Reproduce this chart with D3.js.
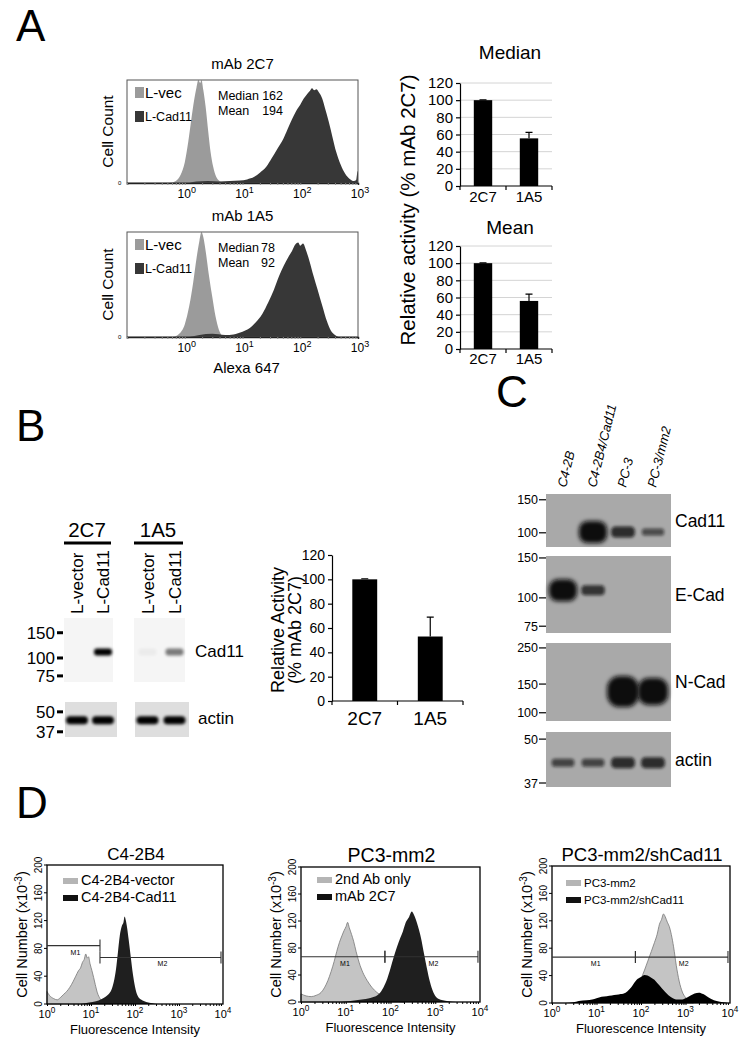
<!DOCTYPE html>
<html>
<head>
<meta charset="utf-8">
<script src="https://cdn.jsdelivr.net/npm/d3@7"></script>
<style>
  body { margin: 0; background: #fff; }
  text { font-family: "Liberation Sans", Arial, Helvetica, sans-serif; fill: #000; }
</style>
</head>
<body>
<svg id="fig" width="748" height="1047"></svg>
<script>
// ---------- data ----------

// Panel A flow histograms: [fluorescence, relative cell count]
const a2c7Vec = [[0.55,0],[0.7,0.02],[0.85,0.08],[1.0,0.2],[1.15,0.4],[1.3,0.62],[1.45,0.8],[1.6,0.93],[1.72,1.0],[1.85,0.97],[1.95,1.0],[2.1,0.9],[2.3,0.74],[2.55,0.5],[2.8,0.3],[3.1,0.16],[3.5,0.06],[4.0,0.02],[4.6,0]];
const a2c7Cad = [[1.2,0],[1.6,0.015],[2.5,0.02],[4,0.015],[6,0.02],[9,0.025],[12,0.035],[16,0.06],[20,0.1],[26,0.16],[32,0.24],[40,0.33],[50,0.42],[60,0.52],[72,0.62],[85,0.7],[100,0.76],[115,0.82],[130,0.86],[145,0.89],[160,0.92],[175,0.9],[190,0.91],[210,0.88],[240,0.82],[270,0.72],[310,0.6],[360,0.45],[420,0.3],[500,0.18],[600,0.09],[720,0.04],[850,0.02],[930,0.03],[970,0.1],[1000,0.12]];
const a1a5Vec = [[0.65,0],[0.8,0.03],[1.0,0.12],[1.2,0.3],[1.4,0.52],[1.6,0.75],[1.8,0.92],[1.95,1.0],[2.1,0.95],[2.3,0.82],[2.6,0.6],[3.0,0.38],[3.4,0.2],[3.9,0.07],[4.5,0.01],[5,0]];
const a1a5Cad = [[1.2,0],[1.8,0.02],[3,0.03],[5,0.02],[7,0.025],[10,0.05],[13,0.08],[17,0.14],[22,0.22],[28,0.33],[35,0.45],[43,0.58],[52,0.68],[62,0.76],[72,0.82],[82,0.88],[92,0.9],[100,0.87],[112,0.89],[125,0.83],[145,0.72],[170,0.58],[200,0.45],[240,0.3],[290,0.15],[340,0.06],[400,0.02],[460,0]];
const aLegend = ["L-vec", "L-Cad11"];
const a2c7Stats = [["Median", "162"], ["Mean", "194"]];
const a1a5Stats = [["Median", "78"], ["Mean", "92"]];
const aDecades = [1, 10, 100, 1000];

// Panel A bar charts (% mAb 2C7)
const barCats = ["2C7", "1A5"];
const aMedianVals = [100, 55.5];
const aMedianErr = [0.4, 7];
const aMeanVals = [100, 56];
const aMeanErr = [0.4, 8];
const barTicks = [0, 20, 40, 60, 80, 100, 120];

// Panel B
const bBarVals = [100, 53];
const bBarErr = [0.5, 16];
const bLanes = ["L-vector", "L-Cad11"];
const bAbs = ["2C7", "1A5"];
const bCad11 = [[0, 1.0], [0.04, 0.5]];   // band intensity per antibody, per lane
const bActin = [[1, 1], [1, 1]];
const bMarkersUp = [150, 100, 75];
const bMarkersLow = [50, 37];

// Panel C western blots
const cLanes = ["C4-2B", "C4-2B4/Cad11", "PC-3", "PC-3/mm2"];
const cCad11 = [0, 0.9, 0.35, 0.15];
const cECad = [0.9, 0.3, 0, 0];
const cNCad = [0, 0, 1.35, 1.15];
const cActin = [0.2, 0.2, 0.35, 0.35];
const cMarkers = [[150, 100], [150, 100, 75], [250, 150, 100], [50, 37]];
const cNames = ["Cad11", "E-Cad", "N-Cad", "actin"];
const cKda = [101, 108, 135, 42.5];

// Panel D flow histograms: [fluorescence, cells x10^-3]
const dC42Vec = [[1,18],[1.15,12],[1.4,8],[1.7,6],[2,9],[2.4,14],[2.8,18],[3.3,24],[3.9,32],[4.5,40],[5.2,48],[5.8,52],[6.4,60],[7,64],[7.6,72],[8.2,66],[8.8,68],[9.5,58],[10.5,48],[11.5,38],[12.5,28],[14,16],[16,8],[19,3],[24,1],[30,0]];
const dC42Cad = [[6,0],[9,2],[13,4],[17,7],[21,10],[25,14],[29,20],[33,32],[37,50],[41,75],[45,98],[50,112],[55,118],[58,126],[62,120],[66,110],[72,92],[80,68],[90,42],[100,25],[115,12],[140,6],[180,3],[250,1],[320,0]];
const dPCVec = [[1,12],[1.3,9],[1.7,8],[2.2,10],[2.8,14],[3.4,22],[4,32],[4.7,45],[5.5,60],[6.3,75],[7.2,88],[8.2,98],[9.2,106],[10.2,112],[11,118],[12,110],[13.5,100],[15,90],[17,75],[20,58],[24,44],[30,32],[38,22],[50,14],[65,9],[85,5],[110,3],[150,1],[200,0]];
const dPCmAb = [[8,0],[14,2],[25,4],[40,7],[55,12],[70,22],[85,35],[100,50],[120,68],[140,82],[165,95],[190,105],[220,118],[260,126],[300,134],[330,130],[370,122],[420,110],[480,95],[560,72],[650,50],[760,30],[900,15],[1100,6],[1400,3],[2000,1],[3000,0]];
const dShCtrl = [[60,0],[80,18],[100,35],[120,48],[140,60],[170,75],[200,88],[230,100],[260,115],[290,122],[320,130],[350,126],[390,118],[430,112],[480,100],[540,82],[620,55],[720,32],[850,16],[1000,8],[1200,3],[1500,0]];
const dShKd = [[2,0],[3,1],[4,3],[6,4],[8,5],[10,7],[13,9],[17,10],[22,11],[28,12],[35,13],[45,15],[55,20],[65,26],[80,34],[100,38],[120,41],[140,40],[170,37],[200,34],[240,28],[290,22],[350,16],[420,11],[520,7],[650,5],[800,5],[1000,7],[1300,11],[1600,14],[2000,15],[2500,13],[3000,10],[3800,6],[5000,3],[7000,1],[9000,0]];
const dTitles = ["C4-2B4", "PC3-mm2", "PC3-mm2/shCad11"];
const dLegends = [["C4-2B4-vector", "C4-2B4-Cad11"], ["2nd Ab only", "mAb 2C7"], ["PC3-mm2", "PC3-mm2/shCad11"]];
const dGates = [[1, 16, 9000, 84, 67], [1, 75, 9000, 67, 67], [1, 75, 9000, 67, 67]]; // M1 start, split, M2 end, M1 level, M2 level
const dYTicks = [0, 40, 80, 120, 160, 200];
const dDecades = [1, 10, 100, 1000, 10000];

// ---------- drawing ----------
const svg = d3.select("#fig");
const defs = svg.append("defs");
defs.append("filter").attr("id", "soft").attr("x", "-50%").attr("y", "-50%").attr("width", "200%").attr("height", "200%")
  .append("feGaussianBlur").attr("stdDeviation", 1.4);
defs.append("filter").attr("id", "soft2").attr("x", "-50%").attr("y", "-50%").attr("width", "200%").attr("height", "200%")
  .append("feGaussianBlur").attr("stdDeviation", 2.2);

function label(g, x, y, str, size, anchor) {
  return g.append("text").attr("x", x).attr("y", y).attr("font-size", size)
    .attr("text-anchor", anchor || "start").text(str);
}
function powLabel(g, x, y, value, size) {
  const t = g.append("text").attr("x", x).attr("y", y).attr("font-size", size).attr("text-anchor", "middle");
  t.append("tspan").text("10");
  t.append("tspan").attr("dy", -size * 0.45).attr("font-size", size * 0.75).text(Math.round(Math.log10(value)));
}
function minorTicks(lo, hi) {
  const out = [];
  for (let d = lo; d < hi; d *= 10) for (let k = 1; k < 10; k++) out.push(d * k);
  return out;
}

// panel letters
label(svg, 16, 41, "A", 44);
label(svg, 16, 441, "B", 44);
label(svg, 496, 407, "C", 44);
label(svg, 16, 818, "D", 44);

// ---- A: flow histograms ----
const facsA = [
  {title: "mAb 2C7", vec: a2c7Vec, cad: a2c7Cad, stats: a2c7Stats, statW: 65, x0: 127, x1: 358, y0: 80, y1: 183},
  {title: "mAb 1A5", vec: a1a5Vec, cad: a1a5Cad, stats: a1a5Stats, statW: 57, x0: 127, x1: 358, y0: 232, y1: 337, xLabel: "Alexa 647"}
];
facsA.forEach(p => {
  const g = svg.append("g");
  const x = d3.scaleLog().domain([0.1, 1000]).range([p.x0, p.x1]);
  const y = d3.scaleLinear().domain([0, 1]).range([p.y1, p.y0]);
  const area = d3.area().x(d => x(d[0])).y0(y(0)).y1(d => y(d[1])).curve(d3.curveMonotoneX);
  g.append("path").datum(p.vec).attr("d", area).attr("fill", "#9b9b9b");
  g.append("path").datum(p.cad).attr("d", area).attr("fill", "#373737");
  g.append("rect").attr("x", p.x0).attr("y", p.y0).attr("width", p.x1 - p.x0).attr("height", p.y1 - p.y0)
    .attr("fill", "none").attr("stroke", "#555").attr("stroke-width", 1);
  const ax = g.append("g").attr("transform", `translate(0,${p.y1})`)
    .call(d3.axisBottom(x).tickValues(minorTicks(0.1, 1000)).tickSize(2).tickFormat(""));
  ax.select(".domain").attr("stroke", "#222").attr("stroke-width", 1.5);
  ax.selectAll(".tick line").attr("stroke", "#888");
  aDecades.forEach(v => powLabel(g, x(v) + 2, p.y1 + 15, v, 12));
  label(g, p.x0 - 9, p.y1 + 2, "0", 6).attr("fill", "#999");
  label(g, (p.x0 + p.x1) / 2, p.y0 - 11, p.title, 15, "middle");
  label(g, 0, 0, "Cell Count", 15.5, "middle")
    .attr("transform", `translate(${p.x0 - 14},${(p.y0 + p.y1) / 2}) rotate(-90)`);
  // legend
  [["#9b9b9b", 0], ["#373737", 1]].forEach(([c, i]) => {
    g.append("rect").attr("x", p.x0 + 8).attr("y", p.y0 + 7 + i * 24).attr("width", 9).attr("height", 11).attr("fill", c);
  });
  label(g, p.x0 + 18, p.y0 + 18, aLegend[0], 15);
  label(g, p.x0 + 18, p.y0 + 41, aLegend[1], 12.5);
  label(g, 218, p.y0 + 20, p.stats[0][0], 12.5);
  label(g, 218 + p.statW, p.y0 + 20, p.stats[0][1], 12.5, "end");
  label(g, 218, p.y0 + 35, p.stats[1][0], 12.5);
  label(g, 218 + p.statW, p.y0 + 35, p.stats[1][1], 12.5, "end");
  if (p.xLabel) label(g, (p.x0 + p.x1) / 2 + 4, p.y1 + 36, p.xLabel, 15, "middle");
});

// ---- bar charts (A and B) ----
function barChart(cfg, vals, errs) {
  const g = svg.append("g");
  const x = d3.scaleBand().domain(barCats).range([cfg.x0, cfg.x1]).paddingInner(cfg.pad).paddingOuter(cfg.pad / 2);
  const y = d3.scaleLinear().domain([0, 120]).range([cfg.y1, cfg.y0]);
  if (cfg.grid) {
    g.selectAll(".grid").data(barTicks.slice(1)).join("line")
      .attr("x1", cfg.x0).attr("x2", cfg.x1).attr("y1", d => y(d)).attr("y2", d => y(d))
      .attr("stroke", "#d4d4d4").attr("stroke-width", 1);
  }
  g.selectAll(".bar").data(barCats).join("rect")
    .attr("x", d => x(d)).attr("width", x.bandwidth())
    .attr("y", (d, i) => y(vals[i])).attr("height", (d, i) => y(0) - y(vals[i]))
    .attr("fill", "#000");
  g.selectAll(".err").data(barCats).join("path")
    .attr("d", (d, i) => {
      const cx = x(d) + x.bandwidth() / 2, top = y(vals[i] + errs[i]);
      return `M${cx},${y(vals[i])}V${top}M${cx - 3.5},${top}H${cx + 3.5}`;
    })
    .attr("stroke", "#000").attr("stroke-width", 1.2).attr("fill", "none");
  const ay = g.append("g").attr("transform", `translate(${cfg.x0},0)`)
    .call(d3.axisLeft(y).tickValues(barTicks).tickSize(4).tickPadding(3).tickSizeOuter(0));
  ay.selectAll("text").attr("font-size", cfg.tickSize).attr("font-family", null).attr("fill", cfg.tickColor);
  ay.selectAll("path,line").attr("stroke", "#000").attr("stroke-width", 1.2);
  // x axis line with ticks at category boundaries
  const bounds = [cfg.x0, cfg.x0 + x.step(), cfg.x1];
  g.append("line").attr("x1", cfg.x0).attr("x2", cfg.x1).attr("y1", y(0)).attr("y2", y(0))
    .attr("stroke", "#000").attr("stroke-width", 1.2);
  g.selectAll(".xt").data(bounds).join("line")
    .attr("x1", d => d).attr("x2", d => d).attr("y1", y(0)).attr("y2", y(0) + 4)
    .attr("stroke", "#000").attr("stroke-width", 1.2);
  barCats.forEach(c => label(g, x(c) + x.bandwidth() / 2, cfg.catY, c, cfg.catSize, "middle"));
  if (cfg.title) label(g, (cfg.x0 + cfg.x1) / 2 + 4, cfg.titleY, cfg.title, 19, "middle");
  return g;
}
barChart({x0: 460, x1: 552, y0: 83, y1: 186, pad: 0.6, grid: true, tickSize: 15, tickColor: "#000",
  catY: 202, catSize: 15, title: "Median", titleY: 59}, aMedianVals, aMedianErr);
barChart({x0: 460, x1: 552, y0: 246, y1: 349, pad: 0.6, grid: true, tickSize: 15, tickColor: "#000",
  catY: 364, catSize: 15, title: "Mean", titleY: 234}, aMeanVals, aMeanErr);
label(svg, 0, 0, "Relative activity (% mAb 2C7)", 20.5, "middle")
  .attr("transform", "translate(415,210) rotate(-90)");

barChart({x0: 332, x1: 463, y0: 555, y1: 701, pad: 0.62, grid: false, tickSize: 14, tickColor: "#222",
  catY: 725, catSize: 19}, bBarVals, bBarErr);
label(svg, 0, 0, "Relative Activity", 18, "middle").attr("transform", "translate(284,630) rotate(-90)");
label(svg, 0, 0, "(% mAb 2C7)", 18, "middle").attr("transform", "translate(301,630) rotate(-90)");

// ---- B: western blot ----
const bGroups = [{x0: 64, x1: 116}, {x0: 134, x1: 188}];
const yUp = d3.scaleLog().domain([68, 190]).range([682, 618]);
const yLow = d3.scaleLog().domain([34.2, 58]).range([737, 702]);
bAbs.forEach((ab, gi) => {
  const grp = bGroups[gi];
  const lx = d3.scaleBand().domain(bLanes).range([grp.x0, grp.x1]);
  const g = svg.append("g");
  g.append("rect").attr("x", grp.x0).attr("y", 618).attr("width", grp.x1 - grp.x0 - 3).attr("height", 64).attr("fill", "#f5f5f5");
  g.append("rect").attr("x", grp.x0 + 1).attr("y", 702).attr("width", grp.x1 - grp.x0).attr("height", 35).attr("fill", "#dedede");
  label(g, (grp.x0 + grp.x1) / 2 - 3, 537, ab, 20.5, "middle");
  g.append("line").attr("x1", grp.x0).attr("x2", grp.x1 - 5).attr("y1", 543).attr("y2", 543)
    .attr("stroke", "#000").attr("stroke-width", 3.2);
  bLanes.forEach((ln, li) => {
    const cx = lx(ln) + lx.bandwidth() / 2;
    label(g, 0, 0, ln, 17, "start").attr("transform", `translate(${cx + 6},614) rotate(-90)`);
    const v = bCad11[gi][li];
    if (v > 0) {
      g.append("rect").attr("x", cx - 9).attr("y", yUp(110) - 3.5).attr("width", 18).attr("height", 7).attr("rx", 3)
        .attr("fill", "#000").attr("opacity", v).attr("filter", "url(#soft)");
    }
    const a = bActin[gi][li];
    g.append("rect").attr("x", cx - 11).attr("y", yLow(44) - 4).attr("width", 22).attr("height", 8).attr("rx", 4)
      .attr("fill", "#000").attr("opacity", a).attr("filter", "url(#soft)");
  });
});
bMarkersUp.forEach(m => {
  label(svg, 55, yUp(m) + 6, m, 17, "end");
  svg.append("line").attr("x1", 57).attr("x2", 63).attr("y1", yUp(m)).attr("y2", yUp(m)).attr("stroke", "#000").attr("stroke-width", 3);
});
bMarkersLow.forEach(m => {
  label(svg, 55, yLow(m) + 6, m, 17, "end");
  svg.append("line").attr("x1", 57).attr("x2", 63).attr("y1", yLow(m)).attr("y2", yLow(m)).attr("stroke", "#000").attr("stroke-width", 3);
});
label(svg, 195, 657, "Cad11", 17);
label(svg, 198, 724, "actin", 17);

// ---- C: western blots ----
const cx = d3.scaleBand().domain(cLanes).range([548, 668]);
const cLayout = [{y0: 494, y1: 547, dom: [84, 161]}, {y0: 556, y1: 633, dom: [70, 153]},
                 {y0: 643, y1: 721, dom: [89, 268]}, {y0: 732, y1: 787, dom: [36, 52.5]}];
const cVals = [cCad11, cECad, cNCad, cActin];
cLanes.forEach(ln => {
  label(svg, 0, 0, ln, 13, "start").attr("font-style", "italic")
    .attr("transform", `translate(${cx(ln) + cx.bandwidth() / 2 + 3},488) rotate(-76)`);
});
cLayout.forEach((L, pi) => {
  const g = svg.append("g");
  const y = d3.scaleLog().domain(L.dom).range([L.y1, L.y0]);
  g.append("rect").attr("x", 546).attr("y", L.y0).attr("width", 125).attr("height", L.y1 - L.y0).attr("fill", "#a9a9a9");
  cLanes.forEach((ln, li) => {
    const v = cVals[pi][li];
    if (v <= 0) return;
    const h = 4 + 20 * v, w = Math.min(32, 21 + 8 * v);
    const mx = cx(ln) + cx.bandwidth() / 2;
    g.append("rect").attr("x", mx - w / 2).attr("y", y(cKda[pi]) - h / 2).attr("width", w).attr("height", h)
      .attr("rx", Math.min(w, h) / 2.5).attr("fill", "#0a0a0a").attr("opacity", Math.min(1, 0.45 + v))
      .attr("filter", h > 15 ? "url(#soft2)" : "url(#soft)");
  });
  cMarkers[pi].forEach(m => {
    label(g, 538, y(m) + 4.5, m, 12.5, "end");
    g.append("line").attr("x1", 539).attr("x2", 546).attr("y1", y(m)).attr("y2", y(m)).attr("stroke", "#000").attr("stroke-width", 1.2);
  });
  label(g, 675, (L.y0 + L.y1) / 2 + 6, cNames[pi], 17.5);
});

// ---- D: flow histograms ----
const dPanels = [
  {x0: 47, x1: 223, y0: 865, y1: 1004, back: dC42Vec, front: dC42Cad, legX: 63, legY: 878, legSize: 14.5, frontColor: "#1f1f1f"},
  {x0: 301, x1: 480, y0: 867, y1: 1002, back: dPCVec, front: dPCmAb, legX: 317, legY: 877, legSize: 14.5, frontColor: "#1f1f1f"},
  {x0: 552, x1: 730, y0: 866, y1: 1003, back: dShCtrl, front: dShKd, legX: 566, legY: 880, legSize: 11.5, frontColor: "#000"}
];
dPanels.forEach((p, i) => {
  const g = svg.append("g");
  const x = d3.scaleLog().domain([1, 10000]).range([p.x0, p.x1]);
  const y = d3.scaleLinear().domain([0, 200]).range([p.y1, p.y0]);
  const area = d3.area().x(d => x(d[0])).y0(y(0)).y1(d => y(d[1])).curve(d3.curveMonotoneX);
  g.append("path").datum(p.back).attr("d", area).attr("fill", "#c4c4c4").attr("stroke", "#777").attr("stroke-width", 0.8);
  g.append("path").datum(p.front).attr("d", area).attr("fill", p.frontColor);
  g.append("rect").attr("x", p.x0).attr("y", p.y0).attr("width", p.x1 - p.x0).attr("height", p.y1 - p.y0)
    .attr("fill", "none").attr("stroke", "#000").attr("stroke-width", 1.3);
  // gates
  const gt = dGates[i];
  const gate = (a, b, lvl) => {
    const yy = y(lvl);
    g.append("path").attr("d", `M${x(a)},${yy}H${x(b)}M${x(b)},${yy - 6}V${yy + 6}` + (a > 1 ? `M${x(a)},${yy - 6}V${yy + 6}` : ""))
      .attr("stroke", "#333").attr("stroke-width", 1.1).attr("fill", "none");
  };
  gate(gt[0], gt[1], gt[3]);
  gate(gt[1], gt[2], gt[4]);
  label(g, x(Math.sqrt(gt[0] * gt[1])) + 2, y(gt[3]) + 9, "M1", 7, "middle").attr("fill", "#333");
  label(g, x(Math.sqrt(gt[1] * gt[2])) + 2, y(gt[4]) + 9, "M2", 7, "middle").attr("fill", "#333");
  // axes
  const ax = g.append("g").attr("transform", `translate(0,${p.y1})`)
    .call(d3.axisBottom(x).tickValues(minorTicks(1, 10000)).tickSize(2).tickFormat(""));
  ax.select(".domain").remove();
  ax.selectAll(".tick line").attr("stroke", "#000");
  dDecades.forEach(v => powLabel(g, x(v), p.y1 + 14, v, 11));
  dYTicks.forEach(v => {
    g.append("line").attr("x1", p.x0 - 3).attr("x2", p.x0).attr("y1", y(v)).attr("y2", y(v)).attr("stroke", "#000");
    label(g, 0, 0, v, 10, "middle").attr("transform", `translate(${p.x0 - 5},${y(v)}) rotate(-90)`);
  });
  const yl = g.append("text").attr("font-size", 14.5).attr("text-anchor", "middle")
    .attr("transform", `translate(${p.x0 - 20},${(p.y0 + p.y1) / 2}) rotate(-90)`);
  yl.append("tspan").text("Cell Number (x10");
  yl.append("tspan").attr("dy", -5).attr("font-size", 10).text("-3");
  yl.append("tspan").attr("dy", 5).text(")");
  label(g, (p.x0 + p.x1) / 2, p.y1 + 30, "Fluorescence Intensity", 13, "middle");
  label(g, (p.x0 + p.x1) / 2 + 1, p.y0 - 5, dTitles[i], i === 0 ? 17 : (i === 1 ? 19.5 : 18.5), "middle");
  // legend
  g.append("rect").attr("x", p.legX).attr("y", p.legY).attr("width", 15).attr("height", 6).attr("fill", "#b5b5b5");
  g.append("rect").attr("x", p.legX).attr("y", p.legY + 17).attr("width", 15).attr("height", 6).attr("fill", "#111");
  label(g, p.legX + 18, p.legY + 7, dLegends[i][0], p.legSize);
  label(g, p.legX + 18, p.legY + 24, dLegends[i][1], p.legSize);
});
</script>
</body>
</html>
